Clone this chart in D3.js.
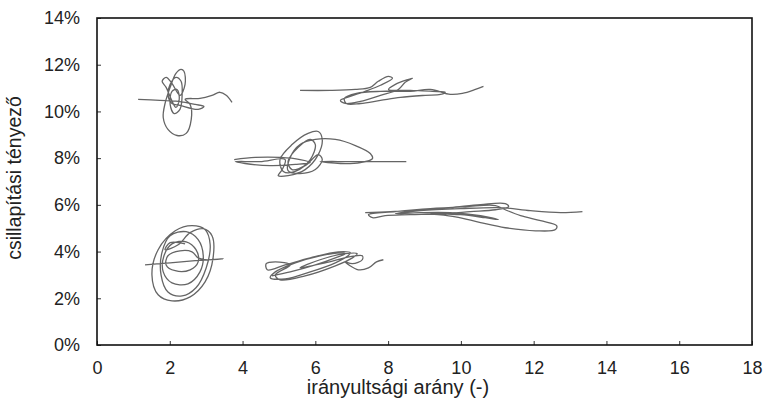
<!DOCTYPE html>
<html>
<head>
<meta charset="utf-8">
<script src="https://cdn.jsdelivr.net/npm/d3@7"></script>
<style>
  body { margin: 0; background: #fff; }
  text { font-family: "Liberation Sans", Arial, sans-serif; fill: #222; }
</style>
</head>
<body>
<div id="chart"></div>
<script>
// traced curves: [irányultsági arány, csillapítási tényező %]
const curveTopLeft = [
  [1.13,10.52],[1.73,10.47],[2.23,10.43],[2.70,10.30],[2.94,10.21],[2.78,10.09],[2.28,10.26],[2.06,10.34],
  [1.95,10.73],[2.01,11.16],[2.17,11.46],[2.31,11.29],[2.34,10.73],[2.28,10.09],[2.12,9.91],[2.01,10.30],
  [2.06,10.86],[2.20,10.94],[2.26,10.52],[2.17,10.17],[2.04,10.52],[1.90,11.03],[1.79,11.29],[1.90,11.46],
  [2.06,11.20],[2.28,10.69],[2.42,11.16],[2.39,11.72],[2.31,11.80],[2.17,11.63],[2.01,11.03],[1.87,10.34],
  [1.82,9.74],[1.95,9.23],[2.20,8.97],[2.45,9.06],[2.59,9.66],[2.56,10.30],[2.42,10.52],[2.83,10.56],
  [3.16,10.69],[3.38,10.82],[3.55,10.69],[3.71,10.39]
];
const curveTopMid = [
  [5.58,10.90],[6.41,10.90],[7.10,10.94],[7.51,11.03],[7.73,11.29],[8.01,11.50],[8.12,11.42],[7.79,11.12],
  [7.37,10.86],[6.96,10.64],[6.69,10.47],[6.82,10.34],[7.24,10.43],[7.79,10.69],[8.28,10.94],[8.47,11.25],
  [8.67,11.42],[8.56,11.37],[8.20,11.16],[8.01,10.94],[8.61,10.90],[9.22,10.86],[9.57,10.82],[9.44,10.73],
  [9.02,10.69],[8.34,10.60],[7.79,10.47],[7.24,10.34],[6.85,10.34],[6.80,10.56],[7.13,10.77],[7.79,10.86],
  [8.61,10.86],[9.16,10.94],[9.71,10.73],[10.04,10.77],[10.40,10.94],[10.62,11.07]
];
const curveMid = [
  [3.77,7.94],[4.35,8.03],[5.03,8.03],[5.58,7.94],[5.86,7.81],[5.45,7.73],[4.76,7.68],[4.07,7.77],
  [3.80,7.85],[4.48,7.85],[5.17,7.94],[5.09,7.51],[4.98,7.25],[5.25,7.25],[5.72,7.51],[6.08,8.15],
  [6.19,8.80],[6.08,9.14],[5.80,9.06],[5.36,8.58],[5.03,7.94],[5.12,7.43],[5.45,7.43],[5.86,7.94],
  [6.00,8.58],[5.86,8.80],[5.53,8.46],[5.25,7.85],[5.36,7.51],[5.72,7.68],[6.08,8.15],[6.19,7.94],
  [6.00,7.51],[5.58,7.34],[5.25,7.47],[5.31,8.03],[5.58,8.58],[6.00,8.80],[6.55,8.80],[7.10,8.54],
  [7.51,8.20],[7.57,7.98],[7.24,7.81],[6.69,7.77],[6.13,7.85],[6.96,7.85],[7.79,7.85],[8.50,7.85]
];
const curveRight = [
  [7.37,5.67],[8.06,5.71],[8.89,5.79],[9.71,5.88],[10.54,6.01],[11.22,6.05],[11.31,5.92],[10.95,5.79],
  [10.26,5.71],[9.44,5.62],[8.61,5.58],[7.92,5.54],[7.57,5.45],[7.46,5.58],[8.20,5.71],[9.16,5.84],
  [10.12,5.92],[10.95,5.97],[11.22,5.79],[11.64,5.54],[12.19,5.32],[12.63,5.11],[12.60,4.94],[12.05,4.89],
  [11.22,5.02],[10.54,5.24],[9.85,5.49],[9.16,5.62],[9.99,5.58],[10.67,5.45],[11.03,5.37],[10.54,5.54],
  [9.71,5.67],[8.89,5.67],[8.20,5.62],[8.89,5.75],[9.99,5.84],[11.09,5.88],[11.91,5.75],[12.74,5.67],
  [13.34,5.71]
];
const curveLowLeft = [
  [1.32,3.43],[2.01,3.52],[2.70,3.61],[3.47,3.69],[2.97,3.65],[2.78,3.73],[2.61,3.99],[2.28,4.03],
  [1.95,3.82],[1.90,3.43],[2.15,3.18],[2.56,3.22],[2.78,3.56],[2.72,4.08],[2.45,4.42],[2.06,4.33],
  [1.84,3.82],[1.82,3.13],[2.06,2.66],[2.50,2.62],[2.83,3.13],[2.92,3.82],[2.78,4.51],[2.45,4.85],
  [2.01,4.68],[1.79,3.99],[1.76,3.00],[1.95,2.27],[2.34,2.10],[2.72,2.45],[3.00,3.30],[3.11,4.29],
  [2.97,4.94],[2.61,5.11],[2.15,4.89],[1.68,4.08],[1.51,3.00],[1.68,2.15],[2.06,1.89],[2.56,2.06],
  [2.97,2.70],[3.19,3.73],[3.16,4.68],[2.92,4.98],[2.56,4.81],[2.23,4.29],[1.87,4.08],[2.01,4.38],
  [2.42,4.33]
];
const curveLowMid = [
  [4.81,2.96],[5.31,3.13],[6.00,3.43],[6.55,3.73],[6.82,3.91],[6.69,3.95],[6.13,3.82],[5.45,3.52],
  [4.90,3.13],[4.76,2.88],[5.17,2.83],[5.86,3.13],[6.55,3.52],[6.90,3.82],[6.96,3.95],[6.63,3.99],
  [5.86,3.73],[5.17,3.43],[4.68,3.22],[4.65,3.48],[4.90,3.56],[5.31,3.43],[4.90,3.00],[5.03,2.79],
  [5.72,2.96],[6.55,3.39],[7.02,3.73],[7.15,3.91],[6.82,3.91],[6.13,3.65],[5.58,3.30],[6.27,3.52],
  [6.96,3.78],[7.29,3.82],[7.29,3.65],[7.02,3.48],[6.82,3.56],[7.18,3.22],[7.46,3.30],[7.68,3.56],
  [7.87,3.65]
];
const curves = [curveTopLeft, curveTopMid, curveMid, curveRight, curveLowLeft, curveLowMid];

const xTicks = [0, 2, 4, 6, 8, 10, 12, 14, 16, 18];
const yTicks = [0, 2, 4, 6, 8, 10, 12, 14];

const width = 767, height = 406;
const margin = { left: 97, right: 15, top: 18, bottom: 61 };

const svg = d3.select('#chart').append('svg')
    .attr('width', width)
    .attr('height', height);

const x = d3.scaleLinear().domain([0, 18]).range([margin.left, width - margin.right]);
const y = d3.scaleLinear().domain([0, 14]).range([height - margin.bottom, margin.top]);

// curves
const line = d3.line()
    .x(d => x(d[0]))
    .y(d => y(d[1]))
    .curve(d3.curveCatmullRom.alpha(0.5));

svg.append('g')
    .selectAll('path')
    .data(curves)
    .enter()
    .append('path')
    .attr('d', line)
    .attr('fill', 'none')
    .attr('stroke', '#656565')
    .attr('stroke-width', 1.3)
    .attr('stroke-linejoin', 'round');

// axes
const xAxis = svg.append('g')
    .attr('transform', `translate(0, ${y(0)})`)
    .call(d3.axisBottom(x).tickValues(xTicks).tickSizeInner(-4).tickSizeOuter(0).tickPadding(16));

const yAxis = svg.append('g')
    .attr('transform', `translate(${x(0)}, 0)`)
    .call(d3.axisLeft(y).tickValues(yTicks).tickFormat(d => d + '%').tickSizeInner(-4).tickSizeOuter(0).tickPadding(17));

[xAxis, yAxis].forEach(g => {
    g.select('.domain').remove();
    g.selectAll('.tick line').attr('stroke', '#333');
    g.selectAll('.tick text')
        .style('font-family', '"Liberation Sans", Arial, sans-serif')
        .style('font-size', '18px')
        .attr('fill', '#222');
});

// frame
svg.append('rect')
    .attr('x', x(0))
    .attr('y', y(14))
    .attr('width', x(18) - x(0))
    .attr('height', y(0) - y(14))
    .attr('fill', 'none')
    .attr('stroke', '#111')
    .attr('stroke-width', 1.6);

svg.append('text')
    .attr('x', 398)
    .attr('y', 394)
    .attr('text-anchor', 'middle')
    .style('font-size', '20px')
    .text('irányultsági arány (-)');

svg.append('text')
    .attr('transform', `translate(21, 178) rotate(-90)`)
    .attr('text-anchor', 'middle')
    .style('font-size', '19.5px')
    .text('csillapítási tényező');
</script>
</body>
</html>
